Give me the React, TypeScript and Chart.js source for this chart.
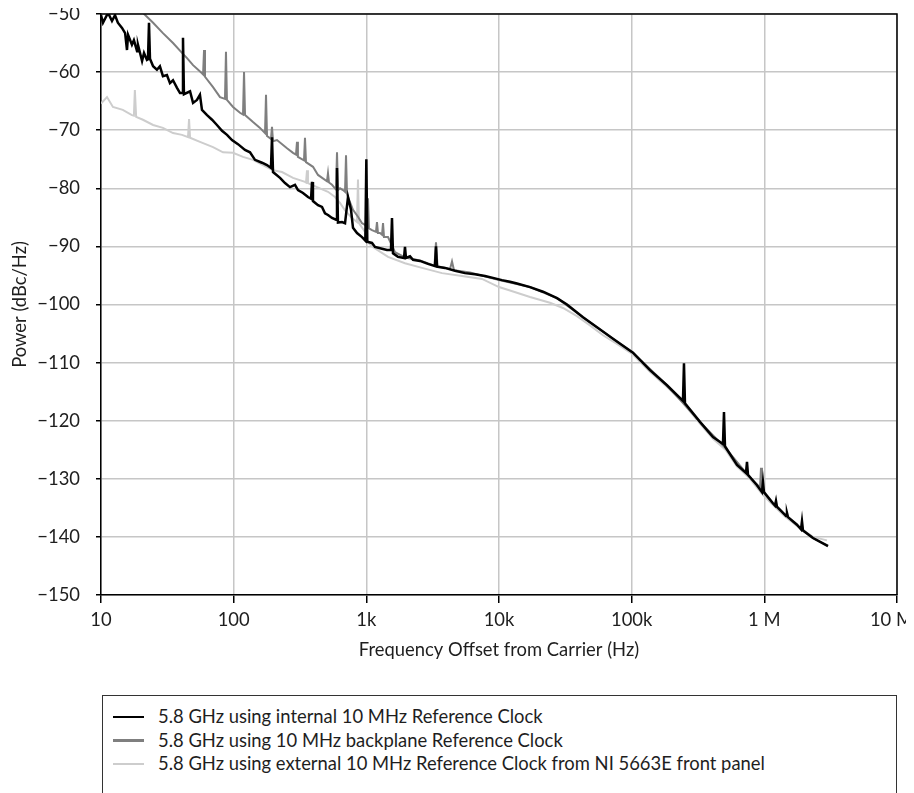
import React, { useEffect, useRef } from "react";
import { Chart, registerables } from "chart.js";

Chart.register(...registerables);

const FONT = "Lato, 'Noto Sans', sans-serif";
const FONT_SIZE = 18.4;
const TEXT = "#1e1e1e";

const xTickValues = [10, 100, 1000, 10000, 100000, 1000000, 10000000];
const xTickLabels = ["10", "100", "1k", "10k", "100k", "1 M", "10 M"];

const seriesNames = [
  "5.8 GHz using internal 10 MHz Reference Clock",
  "5.8 GHz using 10 MHz backplane Reference Clock",
  "5.8 GHz using external 10 MHz Reference Clock from NI 5663E front panel",
];
const seriesColors = ["#000000", "#7f7f7f", "#cdcdcd"];

const internalFreq = [
  10, 10.35, 11.3, 12.1, 12.75, 13.4, 14.4, 15.2, 15.7, 16.0, 17.1, 17.7, 18.7, 19.0, 20.4, 21.1, 22.2, 22.6, 23.0, 23.4,
  24.7, 26.4, 27.8, 29.3, 31.4, 33.1, 34.9, 37.4, 39.4, 40.8, 41.5, 42.2, 46.9, 49.4, 52.9, 55.7, 57.7, 63.0, 68.7, 74.8,
  81.7, 89.1, 97.1, 107.8, 121.7, 132.8, 144.8, 163.5, 178.3, 191, 194.5, 198, 223.6, 243.8, 265.8, 290, 305.5, 333.2,
  363.4, 383, 389.5, 396, 432.2, 463.3, 488, 514, 551.1, 591, 601, 611, 655.6, 690.9, 727.6, 766.4, 793.5, 850.5, 927.8,
  983, 1000, 1017, 1103, 1162, 1313, 1431, 1534, 1561, 1588, 1732, 1922, 1956, 1990, 2134, 2247, 2538, 2915, 3292, 3350,
  3408, 3917, 4660, 5541, 6592, 7842, 9328, 10530, 12100, 13670, 17130, 21460, 27370, 32550, 42970, 54770, 72320, 102300,
  137400, 184600, 243600, 247900, 252200, 327200, 410200, 487800, 496400, 505100, 622200, 727200, 740000, 753000,
  880300, 960000, 976800, 993900, 1162000, 1203000, 1224000, 1245000, 1431000, 1457000, 1482000, 1508000, 1763000,
  1889000, 1922000, 1956000, 2327000, 3018000,
];
const internalPower = [
  -50.2, -51.5, -49.8, -51.2, -50.2, -51.5, -52.4, -53.3, -56.2, -53.6, -55.3, -54.5, -56.4, -55.3, -58.1, -56.7, -57.9, -57.8, -51.5, -57.7,
  -59.0, -59.6, -59.0, -60.7, -60.5, -61.9, -61.4, -62.7, -63.6, -63.6, -54.1, -63.8, -63.3, -65.3, -64.8, -63.9, -66.5, -67.4, -68.2, -69.1,
  -70.1, -70.8, -71.7, -72.4, -73.4, -73.8, -75.1, -75.6, -76.0, -76.5, -71.2, -77.2, -78.2, -79.1, -79.8, -79.4, -80.3, -80.8,
  -81.5, -81.8, -78.9, -82.2, -82.9, -83.2, -84.3, -84.6, -85.1, -85.4, -76.5, -85.9, -85.8, -86.0, -81.5, -83.7, -86.8, -87.7, -88.4,
  -89.0, -75.0, -89.2, -89.4, -90.1, -90.4, -90.6, -90.6, -85.1, -91.2, -91.8, -92.0, -90.1, -92.0, -91.7, -92.3, -92.5, -93.0, -93.4, -90.0,
  -93.5, -93.7, -94.2, -94.6, -94.8, -95.1, -95.5, -95.8, -96.1, -96.4, -97.0, -97.8, -98.9, -100.0, -102.2, -103.9, -105.9, -108.3,
  -111.3, -113.9, -116.6, -110.1, -117.0, -120.2, -122.8, -124.0, -118.5, -124.4, -127.6, -129.0, -127.1, -129.3,
  -131.1, -132.3, -130.6, -132.3, -134.2, -134.6, -133.8, -134.8, -136.2, -136.4, -135.9, -136.6, -137.9,
  -138.7, -137.3, -138.9, -140.2, -141.6,
];

const backplaneFreq = [
  10, 20.7, 24.7, 29.3, 34.9, 40.8, 44.5, 49.4, 57.7, 58.8, 59.8, 60.8, 69.9, 78.9, 86.0, 87.5, 89.0, 98.9, 111.6, 117.6,
  119.7, 121.8, 139.9, 157.9, 172.3, 175.3, 178.4, 191, 194.5, 198, 212.1, 252.4, 280.1, 295, 300.2, 305, 338.9, 344.8,
  350.8, 396.3, 432.2, 505, 514, 523, 551.1, 580.6, 590.8, 601.1, 611.6, 633.3, 667.1, 690.7, 702.8, 715.1, 727.6, 793.5,
  865.1, 927.8, 977.2, 1011, 1029, 1047, 1103, 1182, 1203, 1224, 1268, 1313, 1336, 1359, 1457, 1644, 1956, 2538, 3264,
  3350, 3440, 4272, 4424, 4579, 6043, 10000, 17130, 27370, 42970, 72320, 102300, 184600, 327200, 513900, 766100, 928000,
  944000, 960000, 1162000, 1763000, 2327000, 3018000,
];
const backplanePower = [
  -45.5, -49.8, -51.5, -53.3, -55.0, -56.7, -57.6, -58.8, -60.2, -60.4, -56.2, -60.8, -62.6, -64.3, -64.6, -56.5, -64.8, -66.0, -67.0, -67.3,
  -60.0, -67.4, -68.6, -69.6, -70.5, -63.9, -71.0, -71.5, -69.4, -71.9, -71.7, -73.1, -73.9, -74.2, -72.0, -74.6, -75.2, -71.3,
  -75.5, -76.3, -77.7, -78.8, -77.4, -79.0, -79.4, -80.0, -80.2, -73.8, -80.3, -80.0, -80.3, -80.6, -74.3, -81.0, -81.5, -83.7,
  -84.9, -86.0, -86.3, -86.6, -81.7, -86.9, -87.2, -87.5, -85.8, -87.7, -87.7, -88.0, -86.0, -88.4, -88.4, -91.0, -91.9, -92.4, -93.3,
  -89.3, -93.4, -93.9, -92.6, -94.1, -94.5, -95.8, -97.0, -98.9, -102.2, -105.9, -108.3, -113.9, -120.2, -124.8, -129.6, -131.5,
  -128.1, -132.0, -134.3, -138.0, -140.2, -141.5,
];

const externalFreq = [
  10, 11.1, 12.3, 14.6, 17.1, 17.7, 18.0, 18.4, 20.7, 24.7, 29.3, 34.9, 40.8, 45.3, 46.1, 46.9, 55.7, 69.9, 83.1, 98.9,
  117.6, 139.9, 166.4, 197.9, 231.4, 280.1, 344.8, 351, 357.1, 363, 424.8, 514, 580.6, 633, 690.9, 779.8, 850, 865, 880,
  977.2, 1000, 1103, 1457, 1956, 2627, 3718, 5262, 7443, 10000, 12100, 17130, 24230, 30360, 38710, 48530, 60800, 77500,
  102300, 137400, 184600, 239500, 327200, 410200, 513900, 622200, 766100, 960000, 1162000, 1431000, 1763000, 2327000,
  2965000,
];
const externalPower = [
  -65.4, -64.3, -66.0, -66.5, -67.4, -67.5, -63.1, -67.7, -68.2, -69.1, -69.6, -70.5, -70.8, -71.2, -68.1, -71.3, -72.0, -72.9, -73.8, -73.9,
  -74.6, -75.1, -76.0, -76.9, -77.2, -78.2, -78.9, -79.0, -76.9, -79.1, -79.8, -80.6, -81.5, -82.5, -83.8, -85.1, -85.8, -78.5, -86.0,
  -87.5, -89.0, -90.0, -91.8, -92.9, -93.7, -94.6, -95.1, -95.6, -97.0, -97.6, -98.7, -99.7, -100.6, -102.0, -103.6, -105.3, -106.8,
  -108.6, -111.6, -114.2, -116.7, -120.5, -123.1, -125.1, -127.9, -129.8, -132.6, -134.5, -136.5, -138.1, -140.0,
  -140.6,
];

function toPoints(freq: number[], power: number[]) {
  return freq.map((f, i) => ({ x: f, y: power[i] }));
}

export default function App() {
  const canvasRef = useRef<HTMLCanvasElement>(null);

  useEffect(() => {
    document.documentElement.style.overflow = "hidden";
    document.body.style.overflow = "hidden";
    if (!canvasRef.current) return;
    const lastIdx = xTickValues.length - 1;
    const framePlugin = {
      id: "frame",
      afterDatasetsDraw(chart: any) {
        const { ctx, chartArea: a } = chart;
        ctx.save();
        ctx.strokeStyle = "#000";
        ctx.lineWidth = 1.5;
        ctx.beginPath();
        ctx.moveTo(a.left, a.top);
        ctx.lineTo(a.right, a.top);
        ctx.lineTo(a.right, a.bottom);
        ctx.stroke();
        ctx.restore();
      },
      afterDraw(chart: any) {
        // last x tick label, kept inside the canvas
        const { ctx } = chart;
        const xs = chart.scales.x;
        const label = xTickLabels[lastIdx];
        ctx.save();
        ctx.font = `${FONT_SIZE}px ${FONT}`;
        ctx.fillStyle = TEXT;
        ctx.textAlign = "center";
        ctx.textBaseline = "middle";
        const w = ctx.measureText(label).width;
        const px = xs.getPixelForValue(xTickValues[lastIdx]);
        const cx = Math.min(px, chart.width - w / 2 - 1);
        const cy = chart.chartArea.bottom + 8 + 6 + (FONT_SIZE * 1.2) / 2;
        ctx.fillText(label, cx, cy);
        ctx.restore();
      },
    };
    const series = [
      toPoints(internalFreq, internalPower),
      toPoints(backplaneFreq, backplanePower),
      toPoints(externalFreq, externalPower),
    ];
    const font = { family: FONT, size: FONT_SIZE };
    const chart = new Chart(canvasRef.current, {
      type: "line",
      data: {
        datasets: series.map((d, i) => ({
          label: seriesNames[i],
          data: d,
          borderColor: seriesColors[i],
          backgroundColor: seriesColors[i],
          borderWidth: i === 0 ? 2.5 : 2,
          pointRadius: 0,
          tension: 0,
          fill: false,
        })),
      },
      options: {
        animation: false,
        responsive: true,
        maintainAspectRatio: false,
        layout: { padding: { left: 1, top: 6, right: 17, bottom: 0 } },
        plugins: { legend: { display: false }, tooltip: { enabled: false } },
        scales: {
          x: {
            type: "logarithmic",
            min: 10,
            max: 10000000,
            afterBuildTicks: (s: any) => {
              s.ticks = xTickValues.map((v) => ({ value: v }));
            },
            afterFit: (s: any) => {
              s.height = 66;
              s.paddingLeft = 0;
              s.paddingRight = 0;
            },
            ticks: {
              autoSkip: false,
              maxRotation: 0,
              minRotation: 0,
              padding: 6,
              color: TEXT,
              font,
              callback: (v: any) => {
                const idx = xTickValues.indexOf(Number(v));
                return idx >= 0 && idx !== lastIdx ? xTickLabels[idx] : "";
              },
            },
            grid: { color: "#c6c6c6", lineWidth: 1.5, tickColor: "#000", tickLength: 8 },
            border: { color: "#000", width: 1.5 },
            title: {
              display: true,
              text: "Frequency Offset from Carrier (Hz)",
              color: TEXT,
              font,
              padding: 0,
            },
          },
          y: {
            type: "linear",
            min: -150,
            max: -50,
            afterFit: (s: any) => {
              s.width = 92;
              s.paddingTop = 0;
              s.paddingBottom = 0;
            },
            ticks: {
              stepSize: 10,
              padding: 16,
              color: TEXT,
              font,
              callback: (v: any) => (Number(v) < 0 ? "\u2212" : "") + Math.abs(Number(v)),
            },
            grid: { color: "#c6c6c6", lineWidth: 1.5, tickColor: "#000", tickLength: 5 },
            border: { color: "#000", width: 1.5 },
            title: {
              display: true,
              text: "Power (dBc/Hz)",
              color: TEXT,
              font,
              padding: 0,
            },
          },
        },
      },
      plugins: [framePlugin],
    });
    return () => chart.destroy();
  }, []);

  return (
    <div style={{ width: 906, height: 785, overflow: "hidden" }}>
      <div style={{ position: "relative", width: 906, height: 653 }}>
        <canvas ref={canvasRef} />
      </div>
      <div
        style={{
          marginLeft: 94,
          marginTop: 34,
          width: 795,
          boxSizing: "border-box",
          border: "1px solid #333",
          padding: "9px 0 24px 10px",
          fontFamily: FONT,
          fontSize: FONT_SIZE,
          color: TEXT,
          lineHeight: "23.5px",
        }}
      >
        {seriesNames.map((n, i) => (
          <div key={n} style={{ display: "flex", alignItems: "center" }}>
            <span
              style={{
                display: "inline-block",
                width: 31,
                height: 2.5,
                background: seriesColors[i],
                marginRight: 14,
              }}
            />
            <span>{n}</span>
          </div>
        ))}
      </div>
    </div>
  );
}
